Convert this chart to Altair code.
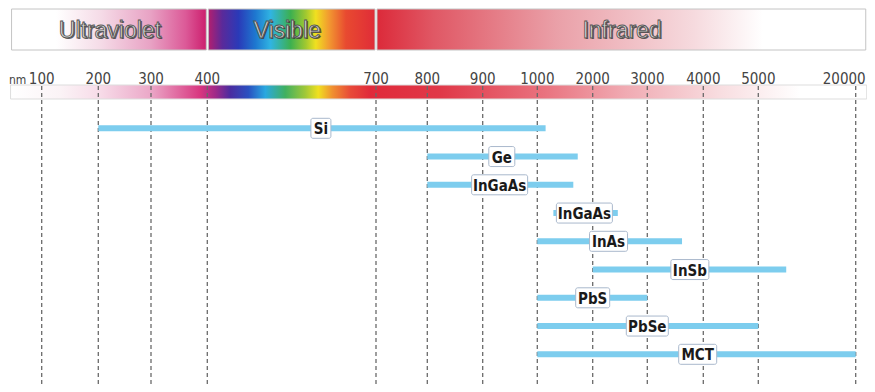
import altair as alt
import pandas as pd

# ---------------- data ----------------
TICK_NM = [100, 200, 300, 400, 700, 800, 900, 1000, 2000, 3000, 4000, 5000, 20000]
TICK_LABELS = [str(v) for v in TICK_NM]

DETECTORS = ["Si", "Ge", "InGaAs", "InGaAs", "InAs", "InSb", "PbS", "PbSe", "MCT"]
START_NM = [200, 800, 800, 1290, 1000, 2000, 1000, 1000, 1000]
END_NM = [1150, 1730, 1650, 2460, 3620, 9300, 3000, 5000, 20000]
LABEL_NM = [602, 935, 931, 1850, 2290, 3760, 2000, 3000, 3900]

BAND_NAMES = ["Ultraviolet", "Visible", "Infrared"]
BAND_START = [45, 400, 700]
BAND_END = [400, 700, 21700]
BAND_LABEL_NM = [222, 542, 2537]

# ---------------- style ----------------
W, H = 859, 376
TICK_PX = [33.7, 90.3, 143, 199.3, 368, 419.3, 474.7, 529.3, 584.7, 639.3, 695.3, 750.3, 847.7]
BOX_W = [20, 26, 56, 56, 38, 38, 34, 42, 38]
COND = "DejaVu Sans Condensed"
BAR_BLUE = "#7dcdee"


def grad(stops):
    return alt.LinearGradient(
        gradient="linear", x1=0, x2=1, y1=0, y2=0,
        stops=[alt.GradientStop(offset=o, color=c) for o, c in stops],
    )


def px_stops(points, left, right):
    return [(max(0.0, min(1.0, (p - left) / (right - left))), c) for p, c in points]


UV_GRAD = grad(px_stops([(10, "#ffffff"), (55, "#ffffff"), (100, "#f5dbe7"),
                         (150, "#e8a2c4"), (185, "#dc5a98"), (206, "#cc1f6e")], 10, 206))
VIS_GRAD = grad(px_stops([(208, "#b31f6f"), (222, "#5a2a9a"), (238, "#2a3ab8"),
                          (255, "#1e78d0"), (270, "#30b4e2"), (290, "#3cb050"),
                          (305, "#a0c830"), (315, "#f0e020"), (328, "#f29a30"),
                          (345, "#e84a30"), (374, "#e02c38")], 208, 374))
IR_GRAD = grad(px_stops([(377, "#dc2a3a"), (435, "#e05865"), (560, "#eaa0a8"),
                         (700, "#f6dade"), (770, "#ffffff"), (875, "#ffffff")], 377, 875))
SPEC_GRAD = grad(px_stops([(10, "#ffffff"), (60, "#fbf3f6"), (100, "#f7dbe8"),
                           (150, "#eba8c8"), (200, "#d8367f"), (215, "#a02a88"),
                           (230, "#4a2ca0"), (248, "#2a50c0"), (265, "#2aa8e0"),
                           (285, "#40b060"), (305, "#a0c838"), (318, "#f0e020"),
                           (332, "#f09030"), (350, "#e84a38"), (370, "#e02a3a"),
                           (440, "#e03848"), (545, "#e9737f"), (625, "#f0aab2"),
                           (720, "#f8dde0"), (800, "#ffffff"), (867, "#ffffff")], 10, 867))
BAND_GRADS = [UV_GRAD, VIS_GRAD, IR_GRAD]

x_scale = alt.Scale(domain=TICK_NM, range=TICK_PX, zero=False, nice=False)
y_scale = alt.Scale(domain=[0, 8], range=[120.3, 346.3], zero=False, nice=False)

det_df = pd.DataFrame({
    "name": DETECTORS, "start": START_NM, "end": END_NM,
    "label": LABEL_NM, "row": list(range(len(DETECTORS))),
})
band_df = pd.DataFrame({"name": BAND_NAMES, "start": BAND_START,
                        "end": BAND_END, "label": BAND_LABEL_NM})
tick_df = pd.DataFrame({"nm": TICK_NM, "label": TICK_LABELS})
spec_df = pd.DataFrame({"start": [BAND_START[0]], "end": [BAND_END[-1]]})

X = lambda f: alt.X(f, scale=x_scale, axis=None)
Y = lambda f: alt.Y(f, scale=y_scale, axis=None)

layers = []

# top bands
for i, name in enumerate(BAND_NAMES):
    layers.append(
        alt.Chart(band_df.iloc[[i]]).mark_rect(
            fill=BAND_GRADS[i], stroke="#c4c4c4", strokeWidth=1,
            xOffset=1, x2Offset=-1,
        ).encode(x=X("start:Q"), x2="end:Q", y=alt.value(1), y2=alt.value(42))
    )

# band titles (shadow + face)
layers.append(
    alt.Chart(band_df).mark_text(
        font="Liberation Sans", fontSize=23, color="#2e2e2e", opacity=0.75,
        dx=1.4, dy=1.4, baseline="middle",
    ).encode(x=X("label:Q"), y=alt.value(23), text="name:N")
)
layers.append(
    alt.Chart(band_df).mark_text(
        font="Liberation Sans", fontSize=23, fill="#dedede", stroke="#555555",
        strokeWidth=0.9, baseline="middle",
    ).encode(x=X("label:Q"), y=alt.value(23), text="name:N")
)

# spectrum strip
layers.append(
    alt.Chart(spec_df).mark_rect(fill=SPEC_GRAD, stroke="#dddddd", strokeWidth=1)
    .encode(x=X("start:Q"), x2="end:Q", y=alt.value(77), y2=alt.value(91))
)

# dashed grid lines
layers.append(
    alt.Chart(tick_df).mark_rule(strokeDash=[4, 3], color="#6a6a6a", strokeWidth=1.3)
    .encode(x=X("nm:Q"), y=alt.value(78), y2=alt.value(H))
)

# tick labels
layers.append(
    alt.Chart(tick_df.iloc[:-1]).mark_text(font=COND, fontSize=15, color="#444444", baseline="middle")
    .encode(x=X("nm:Q"), y=alt.value(70.5), text="label:N")
)
layers.append(
    alt.Chart(tick_df.iloc[-1:]).mark_text(font=COND, fontSize=15, color="#444444",
                                           baseline="middle", align="right", dx=10)
    .encode(x=X("nm:Q"), y=alt.value(70.5), text="label:N")
)
layers.append(
    alt.Chart(pd.DataFrame({"t": ["nm"]})).mark_text(
        font=COND, fontSize=12, color="#444444", baseline="middle", align="left")
    .encode(x=alt.value(1), y=alt.value(71.5), text="t:N")
)

# detector ranges
layers.append(
    alt.Chart(det_df).mark_rule(strokeWidth=6, color=BAR_BLUE)
    .encode(x=X("start:Q"), x2="end:Q", y=Y("row:Q"))
)

# label boxes
for i in range(len(DETECTORS)):
    w = BOX_W[i]
    layers.append(
        alt.Chart(det_df.iloc[[i]]).mark_rect(
            fill="white", stroke="#a9b8cc", strokeWidth=1, cornerRadius=2,
            xOffset=-w / 2, x2Offset=w / 2, yOffset=-10, y2Offset=10,
        ).encode(x=X("label:Q"), x2="label:Q", y=Y("row:Q"), y2="row:Q")
    )

# labels
layers.append(
    alt.Chart(det_df).mark_text(font=COND, fontSize=15, fontWeight="bold",
                                color="#1a1a1a", baseline="middle", dy=1)
    .encode(x=X("label:Q"), y=Y("row:Q"), text="name:N")
)

chart = (
    alt.layer(*layers)
    .properties(width=W, height=H, padding=0, autosize=alt.AutoSizeParams(type="none"),
                background="white")
    .configure_view(stroke=None)
)

chart.save("out.html", embed_options={"renderer": "svg", "actions": False})
